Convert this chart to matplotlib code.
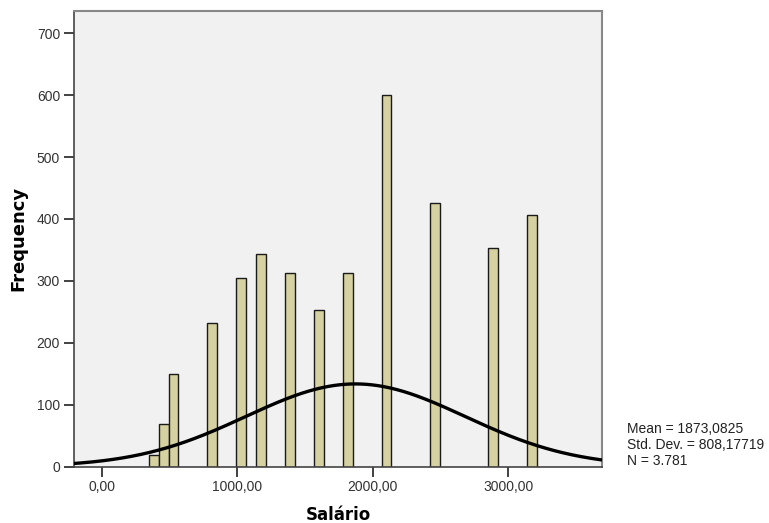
import numpy as np
import matplotlib
matplotlib.use("Agg")
import matplotlib.pyplot as plt

# dados do histograma (Salário)
bin_lefts = [351, 422, 494, 780, 995, 1138, 1352, 1567, 1781, 2067, 2424, 2853, 3139]
freqs = [19, 68, 150, 232, 305, 344, 312, 253, 313, 600, 425, 353, 407]
bin_width = 71.5
mean = 1873.0825
std = 808.17719
n = 3781
y_ticks = [0, 100, 200, 300, 400, 500, 600, 700]
x_ticks = [0, 1000, 2000, 3000]
x_labels = ["0,00", "1000,00", "2000,00", "3000,00"]

plt.rcParams['font.family'] = ['Liberation Sans', 'DejaVu Sans']

fig = plt.figure(figsize=(7.69, 5.23), dpi=100)
ax = fig.add_axes([0.0962, 0.108, 0.6866, 0.871])
ax.set_facecolor('#f1f1f1')

ax.bar(bin_lefts, freqs, width=bin_width, align='edge',
       color='#d5d1a0', edgecolor='#1a1a1a', linewidth=1.0, zorder=2)

# curva normal
xs = np.linspace(-250, 3750, 400)
ys = n * bin_width / (std * np.sqrt(2 * np.pi)) * np.exp(-0.5 * ((xs - mean) / std) ** 2)
ax.plot(xs, ys, color='black', linewidth=2.4, zorder=3)

ax.set_xlim(-204, 3692)
ax.set_ylim(0, 736)
ax.set_yticks(y_ticks)
ax.set_xticks(x_ticks)
ax.set_xticklabels(x_labels)
ax.tick_params(axis='both', direction='out', length=7, width=1.3,
               colors='#333333', labelsize=10, labelcolor='#333333', pad=3)

for side in ['top', 'right']:
    ax.spines[side].set_color('#888888')
    ax.spines[side].set_linewidth(1.5)
for side in ['left', 'bottom']:
    ax.spines[side].set_color('#444444')
    ax.spines[side].set_linewidth(1.2)

ax.set_ylabel('Frequency', family='DejaVu Sans', fontweight='bold', fontsize=13, labelpad=7)
ax.set_xlabel('Salário', family='DejaVu Sans', fontweight='bold', fontsize=12, labelpad=8)

fig.text(627 / 769, 1 - 445 / 523,
         'Mean = 1873,0825\nStd. Dev. = 808,17719\nN = 3.781',
         fontsize=10, color='#222222', va='center', ha='left', linespacing=1.15)

fig.savefig('out.png', dpi=100)
